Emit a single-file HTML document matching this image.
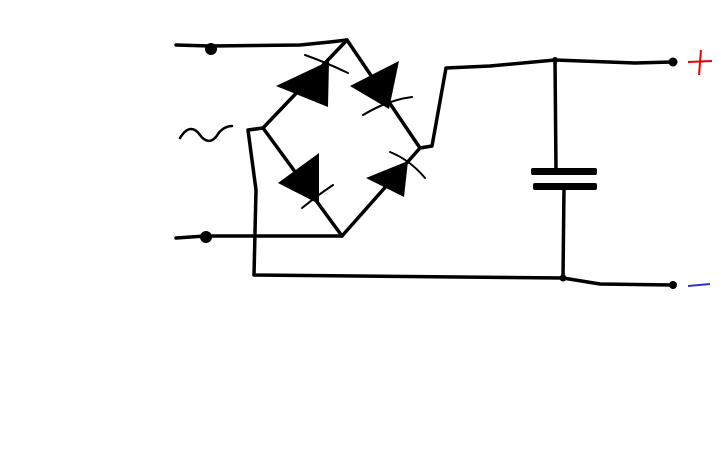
<!DOCTYPE html>
<html><head><style>body{margin:0;background:#fff}svg{display:block}</style></head><body>
<svg width="721" height="449" viewBox="0 0 721 449" xmlns="http://www.w3.org/2000/svg">
<g fill="none" stroke="#000" stroke-width="3.5" stroke-linecap="round" stroke-linejoin="round">
<path d="M176 45 L210 46 L300 45 L330 42 L347 40"/>
<path d="M347 40 L263 128 L342 236 L420 148 Z"/>
<path d="M176 238 L205 236 L342 236"/>
<path d="M420 148 L432 146 L446 68 L490 66 L555 60 L635 63 L672 62"/>
<path d="M555 60 L556 170"/>
<path d="M564 188 L563 278"/>
<path d="M263 128 L248 130 L256 190 L254 275 L563 278 L600 284 L672 285"/>
<path d="M180 138 C188 125 195 128 200 135 C205 142 212 144 218 134 C222 128 228 126 232 126" stroke-width="2.5"/>
<path d="M305 55 Q325 62 348 73" stroke-width="2"/>
<path d="M363 115 Q388 100 412 97" stroke-width="2"/>
<path d="M302 208 Q318 195 333 185" stroke-width="2"/>
<path d="M390 152 Q410 160 425 178" stroke-width="2"/>
</g>
<g fill="#000">
<path d="M276 86 L329 61 L328 107 Z"/>
<path d="M350 86 L399 61 L389 109 Z"/>
<path d="M278 183 L319 153 L319 204 Z"/>
<path d="M366 178 L408 161 L404 197 Z"/>
<rect x="531" y="168" width="66" height="7" rx="2"/>
<rect x="533" y="183" width="64" height="7" rx="2"/>
<ellipse cx="211" cy="49" rx="6" ry="6"/>
<ellipse cx="206" cy="237" rx="6" ry="6"/>
<circle cx="673" cy="62" r="4.5"/>
<circle cx="673" cy="285" r="4"/>
<circle cx="563" cy="278" r="3.5"/>
<circle cx="555" cy="60" r="3"/>
</g>
<path d="M688 62 L712 61 M701 50 L699 75" stroke="#e00" stroke-width="2" fill="none"/>
<path d="M688 286 L710 284" stroke="#33c" stroke-width="2" fill="none"/>
</svg>
</body></html>
